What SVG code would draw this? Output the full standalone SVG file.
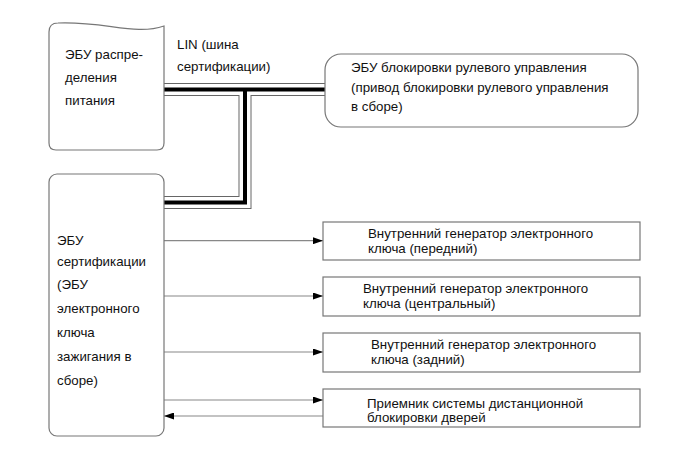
<svg xmlns="http://www.w3.org/2000/svg" width="690" height="464" viewBox="0 0 690 464">
<style>
text{font-family:"Liberation Sans",Arial,sans-serif;font-size:13.3px;fill:#111}
.box{fill:#fff;stroke:#777;stroke-width:1.2}
.ln{fill:none;stroke:#888;stroke-width:1.2}
.bo{fill:none;stroke:#666;stroke-width:13}
.bw{fill:none;stroke:#fff;stroke-width:11}
.bc{fill:none;stroke:#000;stroke-width:4}
</style>
<defs>
<marker id="ah" viewBox="0 0 10 7" refX="10" refY="3.5" markerWidth="10" markerHeight="7" markerUnits="userSpaceOnUse" orient="auto">
<path d="M0,0 L10,3.5 L0,7 Z" fill="#000"/>
</marker>
</defs>
<rect width="690" height="464" fill="#fff"/>
<g id="connectors">
<path class="bo" d="M163,89.5 H326 M245,89.5 V202.5 H163"/>
<path class="bw" d="M163,89.5 H326 M245,89.5 V202.5 H163"/>
<path class="bc" d="M163,89.5 H326 M245,89.5 V202.5 H163"/>
<text x="177" y="48.5">LIN (шина</text>
<text x="177" y="70.5">сертификации)</text>
<line class="ln" x1="164" y1="240.7" x2="323" y2="240.7" marker-end="url(#ah)"/>
<line class="ln" x1="164" y1="296" x2="323" y2="296" marker-end="url(#ah)"/>
<line class="ln" x1="164" y1="352" x2="323" y2="352" marker-end="url(#ah)"/>
<line class="ln" x1="164" y1="400" x2="323" y2="400" marker-end="url(#ah)"/>
<line class="ln" x1="323" y1="416" x2="164" y2="416" marker-end="url(#ah)"/>
</g>
<g id="power-ecu">
<path class="box" d="M49,32 Q49,23 58,23 C105,21 135,36 164,26 L164,143 Q164,150 157,150 L56,150 Q49,150 49,143 Z"/>
<text x="65" y="59">ЭБУ распре-</text>
<text x="65" y="82">деления</text>
<text x="65" y="105">питания</text>
</g>
<g id="steering-ecu">
<rect class="box" x="325" y="54" width="313" height="73" rx="16" ry="16"/>
<text x="351" y="72">ЭБУ блокировки рулевого управления</text>
<text x="351" y="91.7">(привод блокировки рулевого управления</text>
<text x="351" y="111.3">в сборе)</text>
</g>
<g id="cert-ecu">
<rect class="box" x="49" y="174" width="115" height="262" rx="8" ry="8"/>
<text x="57" y="245">ЭБУ</text>
<text x="57" y="266">сертификации</text>
<text x="57" y="289">(ЭБУ</text>
<text x="57" y="313">электронного</text>
<text x="57" y="337">ключа</text>
<text x="57" y="361">зажигания в</text>
<text x="57" y="385">сборе)</text>
</g>
<g id="osc-front">
<rect class="box" x="323" y="222" width="317" height="38"/>
<text x="368" y="238">Внутренний генератор электронного</text>
<text x="368" y="253">ключа (передний)</text>
</g>
<g id="osc-center">
<rect class="box" x="323" y="277" width="317" height="39"/>
<text x="363" y="293">Внутренний генератор электронного</text>
<text x="363" y="308">ключа (центральный)</text>
</g>
<g id="osc-rear">
<rect class="box" x="323" y="333" width="317" height="39"/>
<text x="371" y="348.5">Внутренний генератор электронного</text>
<text x="371" y="363.5">ключа (задний)</text>
</g>
<g id="door-receiver">
<rect class="box" x="323" y="389" width="317" height="38"/>
<text x="367" y="408">Приемник системы дистанционной</text>
<text x="367" y="422">блокировки дверей</text>
</g>
</svg>
